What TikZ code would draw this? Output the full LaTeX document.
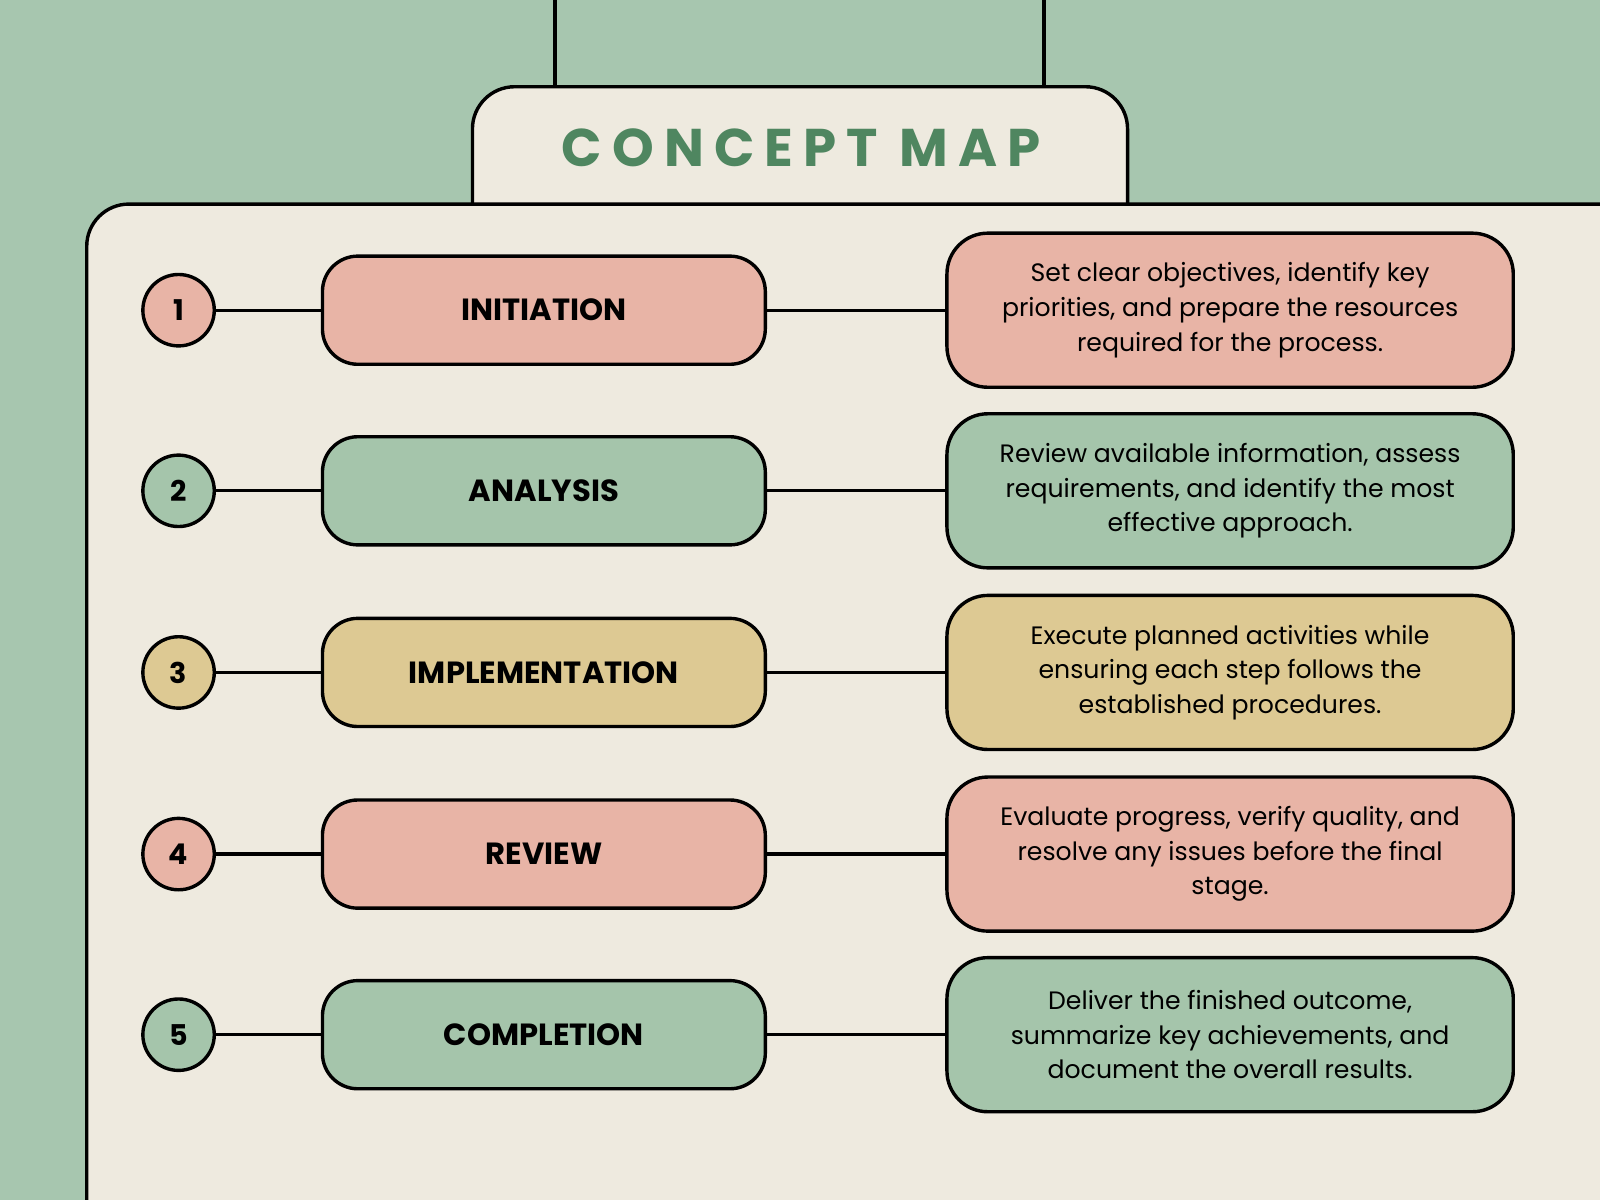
\documentclass[tikz,border=0pt]{standalone}
\usepackage{fontspec}
\setmainfont{Poppins}
\newfontfamily\titlefont[LetterSpace=19]{Poppins}
\definecolor{bgg}{HTML}{A7C6AF}
\definecolor{cream}{HTML}{EEEADF}
\definecolor{pinkc}{HTML}{E8B4A6}
\definecolor{greenc}{HTML}{A5C5AB}
\definecolor{yellc}{HTML}{DDC993}
\definecolor{titlec}{HTML}{4F8660}
\tikzset{
  outl/.style={draw=black, line width=2.5pt},
  numc/.style={outl, circle, minimum size=52.5pt, inner sep=0pt, font=\bfseries\fontsize{21}{24}\selectfont},
  stage/.style={outl, rectangle, rounded corners=26pt, minimum width=325.5pt, minimum height=79.5pt, inner sep=0pt, font=\bfseries\fontsize{22.5}{26}\selectfont},
  desc/.style={outl, rectangle, rounded corners=30pt, minimum width=416.25pt, minimum height=113.25pt, inner sep=0pt, align=center, font=\fontsize{18.5}{25.5}\selectfont},
  link/.style={draw=black, line width=2.4pt},
  hang/.style={draw=black, line width=3pt},
}
\begin{document}
\begin{tikzpicture}[x=0.75pt, y=-0.75pt]
\useasboundingbox (0,0) rectangle (1568,1176);
\fill[bgg] (0,0) rectangle (1568,1176);
% hanging lines
\coordinate (h1) at (544,-5);
\coordinate (h2) at (1023,-5);
\coordinate (h1b) at (544,86);
\coordinate (h2b) at (1023,86);
\draw[hang] (h1) -- (h1b);
\draw[hang] (h2) -- (h2b);
% title tab
\draw[outl, fill=cream, rounded corners=31pt] (463,210) -- (463,85) -- (1105,85) -- (1105,210);
% main panel
\draw[outl, fill=cream, rounded corners=31pt] (85,1190) -- (85,200) -- (1680,200) -- (1680,1190);
\node[font=\titlefont\bfseries\fontsize{39}{44}\selectfont, text=titlec] (title) at (785,145) {CONCEPT MAP};

\foreach \i/\y/\c/\lab/\txt in {
 1/304/pinkc/INITIATION/{Set clear objectives, identify key\\priorities, and prepare the resources\\required for the process.},
 2/481/greenc/ANALYSIS/{Review available information, assess\\requirements, and identify the most\\effective approach.},
 3/659/yellc/IMPLEMENTATION/{Execute planned activities while\\ensuring each step follows the\\established procedures.},
 4/837/pinkc/REVIEW/{Evaluate progress, verify quality, and\\resolve any issues before the final\\stage.},
 5/1014/greenc/COMPLETION/{Deliver the finished outcome,\\summarize key achievements, and\\document the overall results.}}{
  \node[numc, fill=\c] (n\i) at (175,\y) {\i};
  \node[stage, fill=\c] (s\i) at (533,\y) {\lab};
  \node[desc, fill=\c] (d\i) at (1205.5,\y) {\txt};
  \draw[link] (n\i) -- (s\i);
  \draw[link] (s\i) -- (d\i);
}
\end{tikzpicture}
\end{document}
